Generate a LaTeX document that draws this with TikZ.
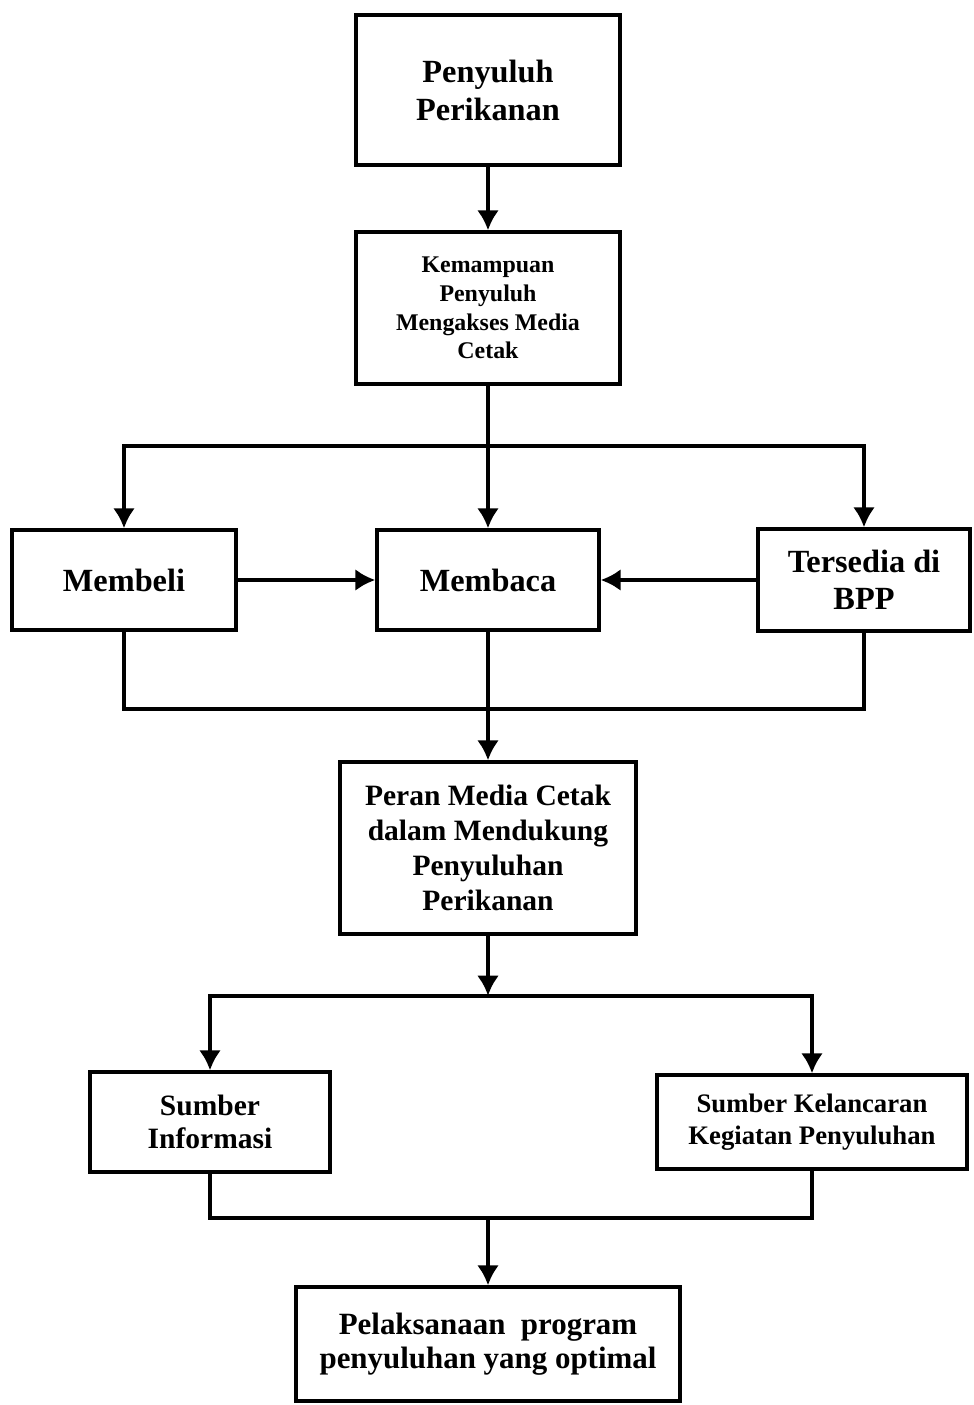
\documentclass[tikz,border=0pt]{standalone}
\usepackage{fontspec}
\setmainfont{Liberation Serif}
\usepackage{tikz}
\usetikzlibrary{arrows,arrows.meta,shapes,positioning,calc}
\tikzstyle{block} = [rectangle, draw, line width=2.4pt, align=center, inner sep=2pt]
\tikzstyle{conn} = [line width=3pt]

\begin{document}
\begin{tikzpicture}[>={Latex[length=5mm,width=5.5mm]}, conn]
        \useasboundingbox (0,0) rectangle (24.325,-35.125);

        \node[block, minimum width=6.6cm, minimum height=3.75cm, font=\bfseries\fontsize{23}{27}\selectfont] (pen) at (12.2,-2.25) {Penyuluh\\Perikanan};
        \node[block, below of=pen, node distance=5.45cm, minimum width=6.6cm, minimum height=3.8cm, font=\bfseries\fontsize{17}{20.5}\selectfont] (kem) {Kemampuan\\Penyuluh\\Mengakses Media\\Cetak};
        \node[block, below of=kem, node distance=6.8cm, minimum width=5.55cm, minimum height=2.5cm, font=\bfseries\fontsize{23}{27}\selectfont] (mbaca) {Membaca};
        \node[block, left of=mbaca, node distance=9.1cm, minimum width=5.6cm, minimum height=2.5cm, font=\bfseries\fontsize{23}{27}\selectfont] (mbeli) {Membeli};
        \node[block, right of=mbaca, node distance=9.4cm, minimum width=5.3cm, minimum height=2.55cm, font=\bfseries\fontsize{23}{26}\selectfont] (tsd) {Tersedia di\\BPP};
        \node[block, below of=mbaca, node distance=6.7cm, minimum width=7.4cm, minimum height=4.3cm, font=\bfseries\fontsize{21}{25}\selectfont] (peran) {Peran Media Cetak\\dalam Mendukung\\Penyuluhan\\Perikanan};

        \coordinate[below of=peran, node distance=6.85cm] (mid);
        \node[block, left of=mid, node distance=6.95cm, minimum width=6.0cm, minimum height=2.5cm, font=\bfseries\fontsize{21}{24}\selectfont] (sinfo) {Sumber\\Informasi};
        \node[block, right of=mid, node distance=8.1cm, minimum width=7.75cm, minimum height=2.35cm, font=\bfseries\fontsize{19}{23}\selectfont] (skel) {Sumber Kelancaran\\Kegiatan Penyuluhan};
        \node[block, below of=peran, node distance=12.4cm, minimum width=9.6cm, minimum height=2.85cm, font=\bfseries\fontsize{22}{24}\selectfont] (pel) {Pelaksanaan~ program\\penyuluhan yang optimal};

        \coordinate (split) at ($(kem.south)+(0,-1.5)$);
        \coordinate (merge) at ($(mbaca.south)+(0,-1.925)$);
        \coordinate (split2) at ($(peran.south)+(0,-1.5)$);
        \coordinate (merge2) at ($(mid)+(0,-2.4)$);

        \draw[->] (pen) -- (kem);
        \draw[->] (kem.south) -- (mbaca.north);
        \draw[->] (split) -| (mbeli.north);
        \draw[->] (split) -| (tsd.north);

        \draw[->] (mbeli.east) -- (mbeli.east -| mbaca.west);
        \draw[->] (tsd.west) -- (tsd.west -| mbaca.east);

        \draw (mbeli.south) |- (merge) -| (tsd.south);
        \draw[->] (mbaca.south) -- (peran.north);

        \draw[->] (peran.south) -- (split2);
        \draw[->] (split2) -| (sinfo.north);
        \draw[->] (split2) -| (skel.north);

        \draw (sinfo.south) |- (merge2) -| (skel.south);
        \draw[->] (merge2) -- (pel.north);

    \end{tikzpicture}
\end{document}
